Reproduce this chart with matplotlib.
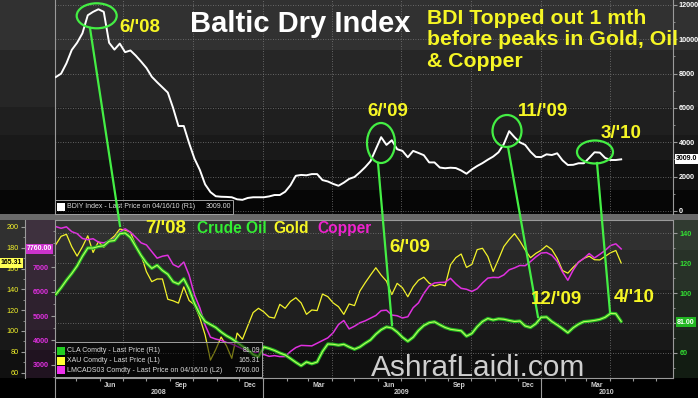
import numpy as np
import pandas as pd
import matplotlib
matplotlib.use("Agg")
import matplotlib.pyplot as plt
import matplotlib.dates as mdates
import matplotlib.transforms as mtransforms
from matplotlib.patches import Ellipse, Rectangle
from matplotlib.lines import Line2D
from matplotlib.ticker import NullFormatter, MultipleLocator
from matplotlib import font_manager

# ---------------- data (weekly readings, 2008-04-04 .. 2010-04-16) ----------------
start_date = "2008-04-04"

bdi = [7800, 8000, 8600, 9380, 9800, 10350, 11400, 11600, 11750, 11600,
       9800, 9400, 9750, 9250, 9350, 9050, 8700, 8330, 7820, 7500,
       7200, 6900, 6000, 4950, 4950, 3950, 3050, 2400, 1550, 1100,
       860, 830, 820, 800, 680, 650, 760, 800, 800, 800,
       850, 930, 930, 1120, 1500, 2050, 2100, 2080, 2150, 2150,
       1800, 1720, 1580, 1470, 1650, 1870, 1980, 2250, 2550, 2900,
       3600, 4300, 3850, 4120, 3600, 3500, 3130, 3500, 3380, 3250,
       2830, 2830, 2530, 2490, 2520, 2500, 2360, 2170, 2420, 2620,
       2790, 2990, 3170, 3420, 3900, 4650, 4300, 4000, 3850, 3450,
       3150, 3140, 3300, 3260, 3360, 2950, 2680, 2690, 2780, 2780,
       3090, 3420, 3400, 3090, 2970, 2970, 3009]

oil = [99, 103.5, 108.5, 113, 118, 124.5, 130, 130, 131, 131.5,
       134.5, 135, 139.5, 140, 137, 131, 125, 120, 116.4, 118.5,
       115, 112.5, 107.5, 106, 109.5, 102.5, 93, 86, 81, 79,
       77, 74, 71.5, 69.5, 67, 64.5, 62.3, 59, 57.5, 64,
       63, 61.7, 60, 58.7, 56.3, 53.8, 51.5, 54, 52.8, 54,
       61, 66, 65.8, 65.2, 65.8, 64, 62.5, 64, 66.5, 68.7,
       72.5, 75.5, 77.4, 76.7, 74, 70.5, 67.8, 70.5, 75, 78.3,
       80.2, 80.8, 78.8, 77, 75.8, 75.3, 74.8, 71.2, 73, 77.5,
       81, 83, 82, 82.8, 82.5, 81.7, 81, 81.3, 78, 77,
       79.5, 83.8, 84, 81, 78.7, 76.2, 73.5, 76.8, 79.2, 80.9,
       81.2, 81.7, 82.4, 83.8, 86.4, 86.2, 81]

gold = [183, 191, 193, 181, 172, 181, 191.5, 175.5, 185.9, 180.5,
        187, 191.3, 198, 197, 195, 182, 173, 157, 147.4, 150,
        150, 130.5, 129, 126.8, 142.4, 129.3, 125.2, 112.8, 96.2, 72,
        82.2, 94.2, 85.8, 73.7, 98, 92, 105, 117.7, 121.8, 118.4,
        113.4, 112.4, 125.6, 121.8, 128.4, 132, 127, 116, 120.2, 119.6,
        135.5, 133, 127, 123.4, 116, 126, 124.4, 138.3, 146.3, 153.7,
        160.8, 153.7, 147.9, 135, 145.8, 141.5, 132.9, 142.5, 148.8, 151.7,
        146, 143.2, 144.7, 143.6, 163.6, 170.5, 174, 161.1, 164, 178.2,
        179.5, 171.6, 157.2, 168.9, 181.2, 187.9, 193.6, 186.5, 177.9, 170.4,
        174.6, 177.6, 182, 178.3, 169.9, 158.1, 155.6, 161.2, 166, 169.8,
        171.9, 168.5, 168.3, 171.8, 175.2, 177.4, 165.3]

copper = [8680, 8610, 8670, 8470, 8390, 8190, 8140, 8180, 8040, 8010,
          8090, 8190, 8450, 8590, 8450, 8240, 8010, 7925, 7650, 7380,
          7460, 7500, 7120, 7010, 7220, 6680, 5870, 5340, 4630, 4130,
          4050, 4000, 3910, 3850, 3750, 3650, 3550, 3500, 3520, 3420,
          3340, 3370, 3330, 3330, 3540, 3700, 3790, 3780, 3770, 3880,
          3990, 4100, 4310, 4650, 4815, 4470, 4580, 4720, 4800, 4910,
          5020, 5220, 5240, 5040, 5010, 4920, 4970, 5340, 5540, 5930,
          6230, 6360, 6380, 6390, 6550, 6320, 6140, 6100, 6010, 6120,
          6360, 6560, 6590, 6580, 6690, 6900, 6980, 7080, 7070, 7240,
          7430, 7590, 7610, 7500, 7250, 6810, 6470, 6890, 7220, 7370,
          7570, 7390, 7540, 7700, 7900, 7970, 7760]

bdi_ticks = [0, 2000, 4000, 6000, 8000, 10000, 12000]
oil_ticks = [60, 80, 100, 120, 140]
oil_tick_labels = ["60", "", "100", "120", "140"]   # 80 is hidden behind the last-price tag
gold_ticks = [60, 80, 100, 120, 140, 160, 180, 200]
copper_ticks = [3000, 4000, 5000, 6000, 7000]
month_tick_dates = ["2008-06-15", "2008-09-15", "2008-12-15", "2009-03-15",
                    "2009-06-15", "2009-09-15", "2009-12-15", "2010-03-15"]
month_tick_labels = ["Jun", "Sep", "Dec", "Mar", "Jun", "Sep", "Dec", "Mar"]
year_dates = ["2008-08-17", "2009-07-02", "2010-03-28"]
year_labels = ["2008", "2009", "2010"]
year_breaks = ["2009-01-01", "2010-01-01"]

bdi_last, oil_last, gold_last, copper_last = "3009.0", "81.00", "165.31", "7760.00"
legend_top = ("BDIY Index - Last Price on 04/16/10 (R1)", "3009.00")
legend_bottom = [("CLA Comdty - Last Price (R1)", "81.09"),
                 ("XAU Comdty - Last Price (L1)", "165.31"),
                 ("LMCADS03 Comdty - Last Price on 04/16/10 (L2)", "7760.00")]

dates = pd.date_range(start_date, periods=len(bdi), freq="7D")
xmin, xmax = pd.Timestamp("2008-04-03"), pd.Timestamp("2010-06-23")

# ---------------- styling ----------------
names = {f.name for f in font_manager.fontManager.ttflist}
NARROW = "Liberation Sans Narrow" if "Liberation Sans Narrow" in names else "Liberation Sans"
plt.rcParams["font.family"] = ["Liberation Sans", "DejaVu Sans"]

OILC = "#33dd33"
GOLDC = "#f4f42a"
COPC = "#e030e0"
LG = "#44ee44"
YEL = "#f6f625"
AXC = "#9a9a9a"
GRIDC = "#7a7a7a"

W, H = 698, 398
fig = plt.figure(figsize=(W / 100, H / 100), dpi=100)
fig.patch.set_facecolor("black")


def fx(x):
    return x / W


def fy(y):
    return 1 - y / H


# background bands
bg = fig.add_axes([0, 0, 1, 1], zorder=-10)
bands = [(0, 50, 0x31), (50, 107, 0x26), (107, 135, 0x1f), (135, 160, 0x19),
         (160, 190, 0x11), (190, 214, 0x06), (214, 220, 0x6a), (220, 250, 0x30),
         (250, 290, 0x27), (290, 330, 0x1f), (330, 350, 0x18), (350, 378, 0x10),
         (378, 398, 0x00)]
img = np.zeros((H, 1, 3))
for a, b, v in bands:
    img[a:b, 0, :] = v / 255
bg.imshow(img, aspect="auto", extent=[0, 1, 0, 1], interpolation="nearest")
bg.axis("off")
fig.add_artist(Rectangle((fx(25), fy(378)), 30 / W, 158 / H, transform=fig.transFigure,
                         fc="#ff40ff", alpha=0.07, ec="none", zorder=-5))
fig.add_artist(Rectangle((fx(673), fy(378)), 25 / W, 158 / H, transform=fig.transFigure,
                         fc="#40ff40", alpha=0.05, ec="none", zorder=-5))

quarters = pd.date_range("2008-07-01", "2010-04-01", freq="QS")
grid_kw = dict(color=GRIDC, lw=0.6, ls=(0, (1, 2)))
TICKFS = 5.2

# ---------------- top panel: BDI ----------------
ax_t = fig.add_axes([fx(55), fy(214), 618 / W, 214 / H])
ax_t.set_facecolor("none")
ax_t.plot(dates, bdi, color="white", lw=1.4, zorder=3)
ax_t.set_xlim(xmin, xmax)
ax_t.set_ylim(-175, 12289)
ax_t.yaxis.tick_right()
ax_t.set_yticks(bdi_ticks, [str(t) for t in bdi_ticks], fontweight="bold", fontfamily=NARROW)
ax_t.yaxis.set_minor_locator(MultipleLocator(1000))
ax_t.tick_params(axis="y", which="both", direction="out", colors=AXC, labelcolor="white",
                 labelsize=TICKFS, length=3, pad=1)
ax_t.tick_params(axis="y", which="minor", length=1.5)
ax_t.tick_params(axis="x", which="both", bottom=False, labelbottom=False)
ax_t.yaxis.grid(True, **grid_kw)
for q in quarters:
    ax_t.axvline(q, **grid_kw, zorder=1)
for s in ("top", "bottom"):
    ax_t.spines[s].set_visible(False)
for s in ("left", "right"):
    ax_t.spines[s].set_color(AXC)
    ax_t.spines[s].set_linewidth(0.8)

# ---------------- bottom panel: oil / gold / copper ----------------
ax_o = fig.add_axes([fx(55), fy(378), 618 / W, 158 / H])
ax_g = ax_o.twinx()
ax_c = ax_o.twinx()
for a, z in ((ax_g, 1), (ax_c, 2), (ax_o, 3)):
    a.set_zorder(z)
    a.patch.set_visible(False)

ax_g.plot(dates, gold, color=GOLDC, lw=0.9)
ax_c.plot(dates, copper, color=COPC, lw=1.1)
ax_o.plot(dates, oil, color="#22b822", lw=2.4, solid_capstyle="round", zorder=4)
ax_o.plot(dates, oil, color="#b8ff5a", lw=0.8, zorder=5)

ax_o.set_xlim(xmin, xmax)
ax_o.set_ylim(43.33, 148.67)
ax_g.set_ylim(54.8, 206.7)
ax_c.set_ylim(2448.6, 8950.6)

ax_o.yaxis.tick_right()
ax_o.yaxis.set_label_position("right")
ax_o.set_yticks(oil_ticks, oil_tick_labels, fontweight="bold", fontfamily=NARROW)
ax_o.yaxis.set_minor_locator(MultipleLocator(10))
ax_o.tick_params(axis="y", which="both", direction="out", colors=AXC, labelcolor=OILC,
                 labelsize=TICKFS, length=3, pad=1.5)
ax_o.tick_params(axis="y", which="minor", length=1.5)

ax_g.yaxis.tick_left()
ax_g.set_yticks(gold_ticks, [str(t) for t in gold_ticks], fontweight="bold", fontfamily=NARROW)
ax_g.yaxis.set_minor_locator(MultipleLocator(10))
ax_g.tick_params(axis="y", which="both", direction="out", colors=AXC, labelcolor=GOLDC,
                 labelsize=TICKFS, length=3, pad=1.5)
ax_g.tick_params(axis="y", which="minor", length=1.5)
ax_g.spines["left"].set_position(("outward", 21.6))

ax_c.yaxis.tick_left()
ax_c.set_yticks(copper_ticks, [str(t) for t in copper_ticks], fontweight="bold", fontfamily=NARROW)
ax_c.yaxis.set_minor_locator(MultipleLocator(500))
ax_c.tick_params(axis="y", which="both", direction="out", colors=AXC, labelcolor=COPC,
                 labelsize=TICKFS, length=3, pad=1.5)
ax_c.tick_params(axis="y", which="minor", length=1.5)

for a in (ax_g, ax_c):
    for s in ("top", "bottom", "right"):
        a.spines[s].set_visible(False)
    a.spines["left"].set_color(AXC)
    a.spines["left"].set_linewidth(0.8)
ax_o.spines["left"].set_visible(False)
for s in ("right", "top", "bottom"):
    ax_o.spines[s].set_color(AXC)
    ax_o.spines[s].set_linewidth(0.8)

ax_o.yaxis.grid(True, **grid_kw)
ax_o.set_axisbelow(True)
for q in quarters:
    ax_o.axvline(q, **grid_kw, zorder=0.5)

ax_o.xaxis.set_major_locator(mdates.MonthLocator())
ax_o.xaxis.set_major_formatter(NullFormatter())
ax_o.set_xticks(pd.to_datetime(month_tick_dates), month_tick_labels, minor=True,
                fontfamily=NARROW, fontweight="bold")
ax_o.tick_params(axis="x", which="major", direction="out", length=2.5, color=AXC)
ax_o.tick_params(axis="x", which="minor", length=0, labelsize=5, labelcolor="#cfcfcf", pad=3.2)

blend = mtransforms.blended_transform_factory(ax_o.transData, fig.transFigure)
for d, lab in zip(pd.to_datetime(year_dates), year_labels):
    fig.text(mdates.date2num(d), fy(393), lab, transform=blend, ha="center", va="center",
             fontsize=5, color="#cfcfcf", fontfamily=NARROW, fontweight="bold")
for d in pd.to_datetime(year_breaks):
    fig.add_artist(Line2D([mdates.date2num(d)] * 2, [fy(378), fy(398)], transform=blend,
                          color=AXC, lw=0.8))
fig.add_artist(Line2D([fx(55)] * 2, [fy(378), fy(398)], transform=fig.transFigure, color=AXC, lw=0.8))

# ---------------- last-value boxes ----------------
def tag(x, y, s, fc, tc, ha="left"):
    fig.text(fx(x), fy(y), s, ha=ha, va="center", fontsize=5.0, fontweight="bold",
             fontfamily=NARROW, color=tc, zorder=14,
             bbox=dict(boxstyle="square,pad=0.18", fc=fc, ec="none"))


tag(676, 159, bdi_last, "white", "black")
tag(677, 322, oil_last, "#22b822", "white")
tag(22, 263, gold_last, "#ffff55", "black", ha="right")
tag(52, 249, copper_last, "#cc33cc", "white", ha="right")

# ---------------- legends ----------------
LEGFS = 5.0


def legend_box(x0, y0, x1, y1):
    fig.add_artist(Rectangle((fx(x0), fy(y1)), (x1 - x0) / W, (y1 - y0) / H,
                             transform=fig.transFigure, fc=(0, 0, 0, 0.5), ec="#a0a0a0",
                             lw=0.7, zorder=8))


def legend_row(y, color, label, value, xr):
    fig.add_artist(Rectangle((fx(57), fy(y + 4)), 8 / W, 8 / H, transform=fig.transFigure,
                             fc=color, ec="none", zorder=9))
    fig.text(fx(67), fy(y), label, ha="left", va="center", fontsize=LEGFS, color="#dcdcdc",
             fontfamily=NARROW, zorder=9)
    fig.text(fx(xr), fy(y), value, ha="right", va="center", fontsize=LEGFS, color="#dcdcdc",
             fontfamily=NARROW, zorder=9)


legend_box(55, 200, 233, 214)
legend_row(207, "white", legend_top[0], legend_top[1], 231)
legend_box(55, 342, 262, 377)
for yy, col, (lab, val) in zip((351, 361, 370), ("#22cc22", "#ffff33", "#ee33ee"), legend_bottom):
    legend_row(yy, col, lab, val, 260)

# ---------------- annotations ----------------
def ftext(x, y, s, **kw):
    kw.setdefault("zorder", 12)
    fig.text(fx(x), fy(y), s, **kw)


ftext(190, 32, "Baltic Dry Index", ha="left", va="baseline", fontsize=21,
      fontweight="bold", color="white")
for yy, line in zip((24, 45, 66.7), ("BDI Topped out 1 mth", "before peaks in Gold, Oil", "& Copper")):
    ftext(427, yy, line, ha="left", va="baseline", fontsize=15.3, fontweight="bold", color=YEL)

for (cx, cy), s in [((140, 27.5), "6/'08"), ((166, 228), "7/'08"), ((388, 111), "6/'09"),
                    ((543, 111), "11/'09"), ((621, 133), "3/'10"), ((410, 247), "6/'09"),
                    ((556, 300), "12/'09"), ((634, 297), "4/'10")]:
    ftext(cx, cy, s, ha="center", va="center", fontsize=13.5, fontweight="bold", color=YEL)

ftext(197, 233, "Crude Oil", ha="left", va="baseline", fontsize=11.2, fontweight="bold", color="#33ee33")
ftext(273, 233, "Gold", ha="left", va="baseline", fontsize=11.2, fontweight="bold", color=YEL)
ftext(317, 233, "Copper", ha="left", va="baseline", fontsize=11.2, fontweight="bold", color="#ee22cc")

for (cx, cy, w, h) in [(96.7, 15.8, 40, 25), (381, 143, 28, 40), (507, 131, 29, 32), (595, 152, 36, 23)]:
    fig.add_artist(Ellipse((fx(cx), fy(cy)), w / W, h / H, transform=fig.transFigure,
                           fill=False, ec=LG, lw=1.6, zorder=11))
for (x1, y1, x2, y2) in [(90, 28, 120, 226), (378, 163, 392, 325), (508, 147, 538, 317), (597, 163, 610, 312)]:
    fig.add_artist(Line2D([fx(x1), fx(x2)], [fy(y1), fy(y2)], transform=fig.transFigure,
                          color=LG, lw=1.6, zorder=11))

ftext(478, 376, "AshrafLaidi.com", ha="center", va="baseline", fontsize=21.5,
      color="#cfcfcf", zorder=13)

fig.savefig("out.png", dpi=100, facecolor=fig.get_facecolor())
